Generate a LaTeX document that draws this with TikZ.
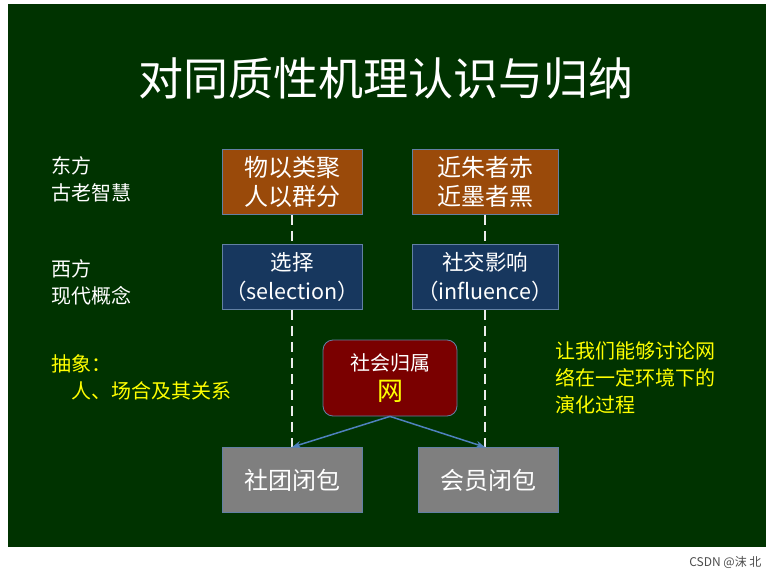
\documentclass[tikz,border=0pt]{standalone}
\usepackage{fontspec}
\newfontfamily\cjk{Noto Sans CJK SC}
\usetikzlibrary{arrows.meta}
\definecolor{bg}{HTML}{003300}
\definecolor{org}{HTML}{9A4A0A}
\definecolor{blu}{HTML}{17375E}
\definecolor{rd}{HTML}{7A0000}
\definecolor{gry}{HTML}{7F7F7F}
\definecolor{arr}{HTML}{4F81BD}
\definecolor{yl}{HTML}{FFFF00}
\tikzset{
 box/.style={draw=arr!60!gray,line width=0.8pt,minimum width=140pt,minimum height=65pt,text=white,align=center,font=\cjk\fontsize{24}{29}\selectfont,inner sep=0pt},
 bbox/.style={box,text width=140pt,font=\cjk\fontsize{21.5}{29}\selectfont},
 side/.style={text=white,align=left,anchor=west,font=\cjk\fontsize{20}{27}\selectfont},
 dsh/.style={white!85!gray,line width=2pt,dash pattern=on 10pt off 6pt},
 ar/.style={arr,line width=1.5pt,-{Stealth[length=9pt]}}
}
\begin{document}
\begin{tikzpicture}[x=1pt,y=-1pt,font=\cjk]
\useasboundingbox (0,0) rectangle (773,577);
\fill[white] (0,0) rectangle (773,577);
\fill[bg] (8,4) rectangle (766,547);
\node[text=white,font=\cjk\fontsize{45}{48}\selectfont] (title) at (386,78) {对同质性机理认识与归纳};
\node[side] (e) at (48,179) {东方\\古老智慧};
\node[side] (w) at (48,282) {西方\\现代概念};
\node[side,text=yl] (abs) at (48,377) {抽象：\\\hspace{1em}人、场合及其关系};
\node[side,text=yl] (r) at (552,378) {让我们能够讨论网\\络在一定环境下的\\演化过程};
\node[box,fill=org] (o1) at (292,182) {物以类聚\\人以群分};
\node[box,fill=org,minimum width=146pt] (o2) at (485,182) {近朱者赤\\近墨者黑};
\node[bbox,fill=blu] (b1) at (292,277) {选择\\（selection）};
\node[bbox,fill=blu,text width=146pt] (b2) at (485,277) {社交影响\\（influence）};
\node[box,fill=rd,rounded corners=10pt,minimum width=134pt,minimum height=76pt,font=\cjk\fontsize{20}{30}\selectfont] (net) at (390,378) {社会归属\\{\color{yl}\fontsize{26}{30}\selectfont 网}};
\node[box,fill=gry] (g1) at (292,480) {社团闭包};
\node[box,fill=gry] (g2) at (488,480) {会员闭包};
\draw[dsh] (o1.south) -- (b1.north);
\draw[dsh] (o2.south) -- (b2.north);
\draw[dsh] (b1.south) -- (g1.north);
\draw[dsh] (b2.south) -- (g2.north -| b2.south);
\draw[ar] (net.south) -- (g1.north);
\draw[ar] (net.south) -- (g2.north -| b2.south);
\node[anchor=east,font=\cjk\fontsize{12}{14}\selectfont,text=black!70] (csdn) at (765,562) {CSDN @沫 北};
\end{tikzpicture}
\end{document}
